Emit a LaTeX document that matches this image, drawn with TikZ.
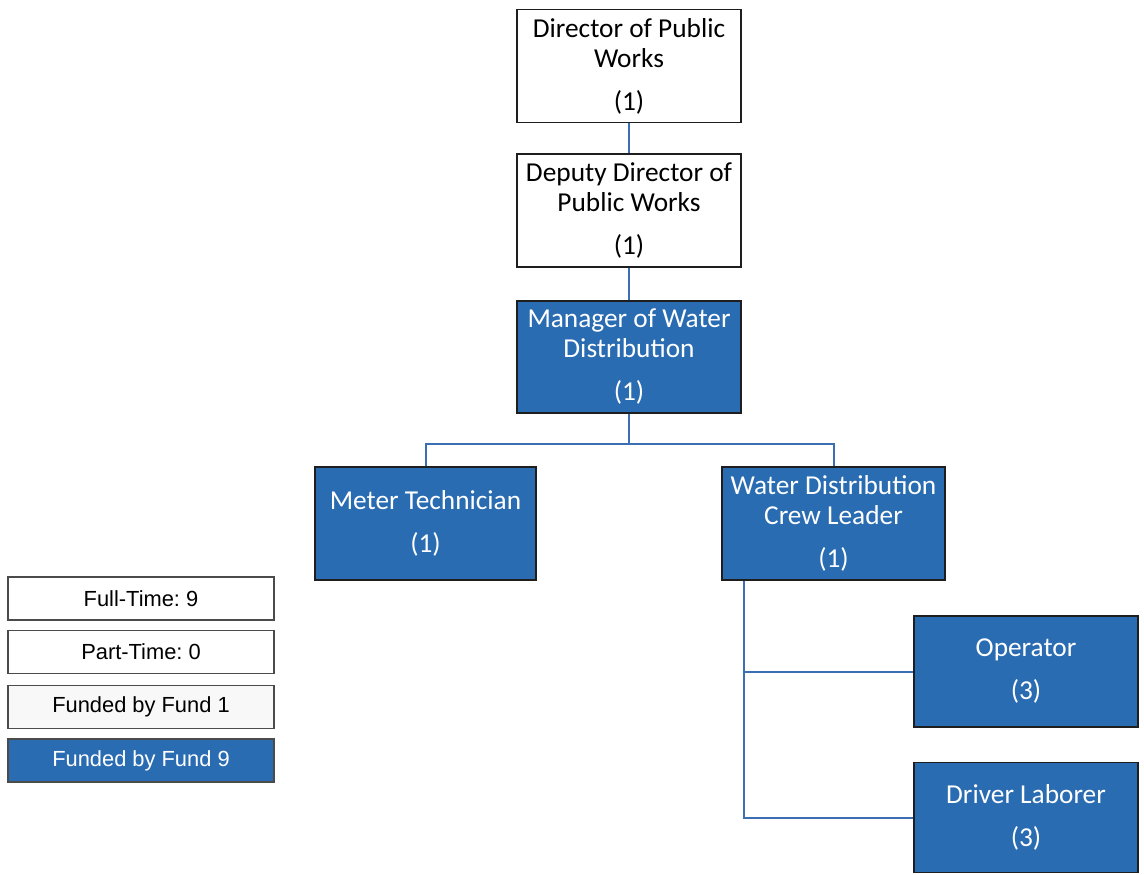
\documentclass[tikz,border=0pt]{standalone}
\usepackage{fontspec}
\setmainfont{Carlito}
\newfontfamily\legfont{Liberation Sans}
\usetikzlibrary{calc}
\frenchspacing
\definecolor{fundblue}{RGB}{42,108,178}
\definecolor{linkblue}{RGB}{60,110,180}
\definecolor{boxedge}{RGB}{30,30,30}
\definecolor{offwhite}{RGB}{248,248,248}
\tikzset{
  orgtext/.style={font=\fontsize{20.5}{22.5}\selectfont, align=center, inner sep=0pt},
  whitebox/.style={orgtext, draw=boxedge, line width=1.1pt, fill=white, text=black},
  bluebox/.style={orgtext, draw=boxedge, line width=1.1pt, fill=fundblue, text=white},
  legbox/.style={font=\legfont\fontsize{16.4}{18}\selectfont\frenchspacing, draw=boxedge!80, line width=0.9pt, inner sep=0pt,
                 minimum width=266*0.75pt, minimum height=43*0.75pt},
  link/.style={draw=linkblue, line width=1.5pt}
}
\begin{document}
\begin{tikzpicture}[x=0.75pt, y=-0.75pt]
\useasboundingbox (0,0) rectangle (1144,874);
% main chain
\node[whitebox, minimum width=224*0.75pt, minimum height=113*0.75pt] (dir) at (629,66)
  {Director of Public\\Works\\[9.75pt](1)};
\node[whitebox, minimum width=224*0.75pt, minimum height=113*0.75pt] (dep) at (629,210.5)
  {Deputy Director of\\Public Works\\[9.75pt](1)};
\node[bluebox, minimum width=224*0.75pt, minimum height=112*0.75pt] (mgr) at (629,357)
  {Manager of Water\\Distribution\\[9.75pt](1)};
\node[bluebox, minimum width=221*0.75pt, minimum height=113*0.75pt] (met) at (425.5,523.5)
  {Meter Technician\\[9.75pt](1)};
\node[bluebox, minimum width=223*0.75pt, minimum height=113*0.75pt] (crew) at (833.5,523.5)
  {Water Distribution\\Crew Leader\\[9.75pt](1)};
\node[bluebox, minimum width=224*0.75pt, minimum height=111*0.75pt] (op) at (1026,671.5)
  {Operator\\[9.75pt](3)};
\node[bluebox, minimum width=224*0.75pt, minimum height=110*0.75pt] (drv) at (1026,817.5)
  {Driver Laborer\\[9.75pt](3)};
% legend
\node[legbox, fill=white] (ft) at (141,598.5) {Full-Time: 9};
\node[legbox, fill=white] (pt) at (141,652) {Part-Time: 0};
\node[legbox, fill=offwhite] (f1) at (141,707) {Funded by Fund 1};
\node[legbox, fill=fundblue, text=white] (f9) at (141,760.5) {Funded by Fund 9};
% connectors
\draw[link] (dir.south) -- (dep.north);
\draw[link] (dep.south) -- (mgr.north);
\coordinate (split) at ($(mgr.south)+(0,30)$);
\draw[link] (mgr.south) -- (split);
\draw[link] (split) -| (met.north);
\draw[link] (split) -| (crew.north);
\coordinate (crewdrop) at ($(crew.south west)+(23,0)$);
\draw[link] (crewdrop) |- (op.west);
\draw[link] (crewdrop) |- (drv.west);
\end{tikzpicture}
\end{document}
